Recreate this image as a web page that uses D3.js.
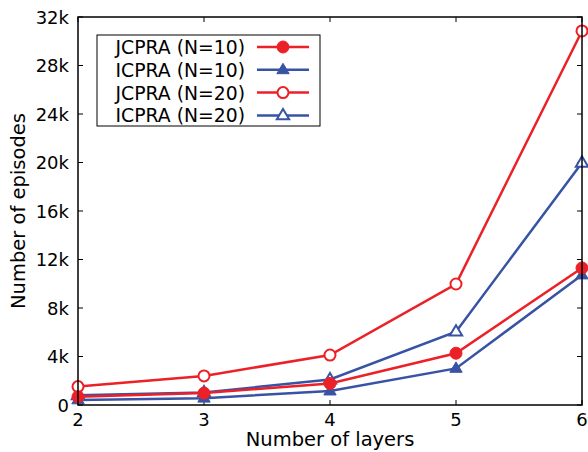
<!DOCTYPE html>
<html>
<head>
<meta charset="utf-8">
<script src="https://cdn.jsdelivr.net/npm/d3@7"></script>
<style>
  body { margin: 0; background: #fff; }
  text { font-family: "DejaVu Sans", sans-serif; }
</style>
</head>
<body>
<svg id="chart" width="588" height="452"></svg>
<script>
const layers = [2, 3, 4, 5, 6];
const jcpra10 = [680, 980, 1780, 4270, 11300];
const icpra10 = [420, 560, 1150, 3020, 10720];
const jcpra20 = [1520, 2400, 4120, 9980, 30850];
const icpra20 = [800, 1030, 2100, 6050, 19980];
const yTicks = [0, 4000, 8000, 12000, 16000, 20000, 24000, 28000, 32000];
const yTickLabels = ["0", "4k", "8k", "12k", "16k", "20k", "24k", "28k", "32k"];

const RED = "#ec2027";
const BLUE = "#3953a4";

const series = [
  { name: "JCPRA (N=10)", values: jcpra10, color: RED, shape: "circle", filled: true },
  { name: "ICPRA (N=10)", values: icpra10, color: BLUE, shape: "triangle", filled: true },
  { name: "JCPRA (N=20)", values: jcpra20, color: RED, shape: "circle", filled: false },
  { name: "ICPRA (N=20)", values: icpra20, color: BLUE, shape: "triangle", filled: false }
];

const svg = d3.select("#chart");
const margin = { left: 78, right: 6, top: 17, bottom: 47 };
const width = +svg.attr("width");
const height = +svg.attr("height");

const x = d3.scaleLinear().domain([2, 6]).range([margin.left, width - margin.right]);
const y = d3.scaleLinear().domain([0, 32000]).range([height - margin.bottom, margin.top]);

const x0 = x.range()[0], x1 = x.range()[1];
const y0 = y.range()[0], y1 = y.range()[1];
const tickLen = 5;

// ticks (inward on all four sides)
const ticks = svg.append("g").attr("stroke", "#000").attr("stroke-width", 1);
layers.forEach(v => {
  ticks.append("line").attr("x1", x(v)).attr("x2", x(v)).attr("y1", y0).attr("y2", y0 - tickLen);
  ticks.append("line").attr("x1", x(v)).attr("x2", x(v)).attr("y1", y1).attr("y2", y1 + tickLen);
});
yTicks.forEach(v => {
  ticks.append("line").attr("x1", x0).attr("x2", x0 + tickLen).attr("y1", y(v)).attr("y2", y(v));
  ticks.append("line").attr("x1", x1).attr("x2", x1 - tickLen).attr("y1", y(v)).attr("y2", y(v));
});

// tick labels
svg.append("g").selectAll("text").data(layers).enter().append("text")
  .attr("x", d => x(d)).attr("y", y0 + 21)
  .attr("text-anchor", "middle").attr("font-size", 18)
  .text(d => d);
svg.append("g").selectAll("text").data(yTicks).enter().append("text")
  .attr("x", x0 - 9).attr("y", d => y(d) + 6.5)
  .attr("text-anchor", "end").attr("font-size", 18)
  .text((d, i) => yTickLabels[i]);

// axis labels
svg.append("text")
  .attr("x", (x0 + x1) / 2).attr("y", 446)
  .attr("text-anchor", "middle").attr("font-size", 19.5)
  .text("Number of layers");
svg.append("text")
  .attr("transform", `translate(25,${(y0 + y1) / 2}) rotate(-90)`)
  .attr("text-anchor", "middle").attr("font-size", 19.5)
  .text("Number of episodes");

function drawMarker(g, s, cx, cy) {
  if (s.shape === "circle") {
    g.append("circle").attr("cx", cx).attr("cy", cy)
      .attr("r", s.filled ? 6 : 5.5)
      .attr("fill", s.filled ? s.color : "#fff")
      .attr("stroke", s.color).attr("stroke-width", s.filled ? 1 : 2);
  } else {
    const r = 6.5;
    const pts = [[cx, cy - r], [cx + r * 0.95, cy + r * 0.6], [cx - r * 0.95, cy + r * 0.6]];
    g.append("path").attr("d", "M" + pts.map(p => p.join(",")).join("L") + "Z")
      .attr("fill", s.filled ? s.color : "#fff")
      .attr("stroke", s.color).attr("stroke-width", s.filled ? 1 : 2)
      .attr("stroke-linejoin", "miter");
  }
}

const line = d3.line().x((d, i) => x(layers[i])).y(d => y(d));
const drawOrder = [3, 1, 2, 0];
drawOrder.forEach(k => {
  const s = series[k];
  const g = svg.append("g");
  g.append("path").attr("d", line(s.values))
    .attr("fill", "none").attr("stroke", s.color).attr("stroke-width", 2.5);
  s.values.forEach((v, i) => drawMarker(g, s, x(layers[i]), y(v)));
});

// frame
svg.append("rect").attr("x", x0).attr("y", y1).attr("width", x1 - x0).attr("height", y0 - y1)
  .attr("fill", "none").attr("stroke", "#000").attr("stroke-width", 1.5);

// legend
const legend = svg.append("g");
legend.append("rect").attr("x", 97).attr("y", 35).attr("width", 223).attr("height", 91)
  .attr("fill", "#fff").attr("stroke", "#000").attr("stroke-width", 1);
series.forEach((s, i) => {
  const ly = 47 + i * 22.8;
  legend.append("text").attr("x", 245).attr("y", ly + 7)
    .attr("text-anchor", "end").attr("font-size", 18.8).text(s.name);
  legend.append("line").attr("x1", 257).attr("x2", 309).attr("y1", ly).attr("y2", ly)
    .attr("stroke", s.color).attr("stroke-width", 2.5);
  drawMarker(legend, s, 283, ly);
});
</script>
</body>
</html>
